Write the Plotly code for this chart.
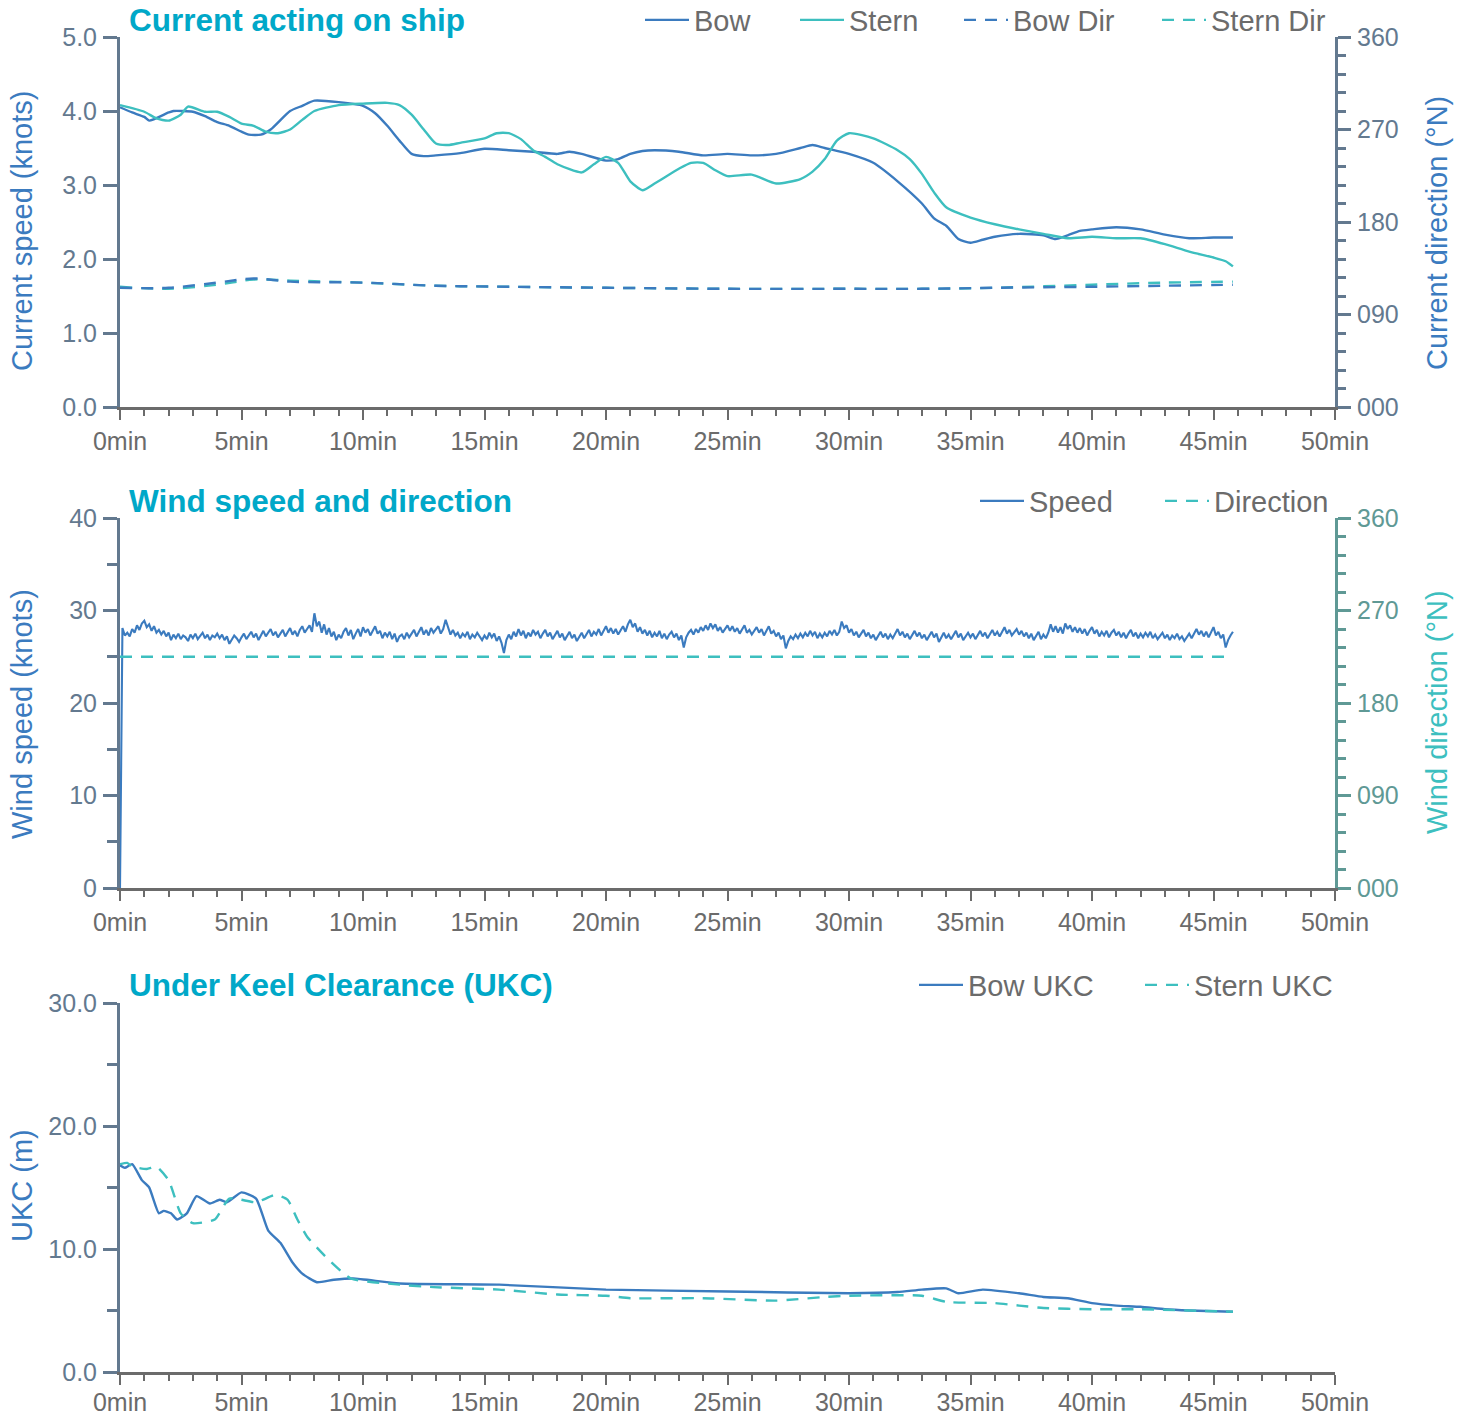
import plotly.graph_objects as go

# ---------------- data ----------------
# Current speed (knots)
bow_t = [0, 0.5, 1, 1.2, 2, 2.2, 3, 3.5, 4, 4.5, 5, 5.3, 5.8, 6.2, 7, 7.5, 8, 9, 10, 10.5, 11, 11.5, 12,
         12.5, 13, 14, 15, 16, 17, 18, 18.5, 19, 20, 20.5, 21, 21.5, 22, 23, 24, 25, 26, 27, 28, 28.5, 29,
         30, 31, 32, 33, 33.5, 34, 34.5, 35, 35.5, 36, 37, 38, 38.5, 39, 39.5, 40, 41, 42, 43, 44, 45, 45.8]
bow_speed = [4.05, 3.98, 3.92, 3.87, 3.98, 4.00, 3.99, 3.93, 3.85, 3.80, 3.72, 3.68, 3.68, 3.75, 4.00, 4.07,
             4.14, 4.12, 4.07, 3.97, 3.80, 3.60, 3.42, 3.39, 3.40, 3.43, 3.49, 3.47, 3.45, 3.42, 3.45, 3.42,
             3.33, 3.35, 3.42, 3.46, 3.47, 3.45, 3.40, 3.42, 3.40, 3.42, 3.50, 3.54, 3.50, 3.42, 3.30, 3.05,
             2.75, 2.55, 2.45, 2.27, 2.22, 2.26, 2.30, 2.34, 2.32, 2.27, 2.32, 2.38, 2.40, 2.43, 2.40, 2.33,
             2.28, 2.29, 2.29]
stern_t = [0, 1, 1.5, 2, 2.5, 2.8, 3.5, 4, 4.5, 5, 5.5, 6, 6.5, 7, 7.5, 8, 9, 10, 11, 11.5, 12, 12.5, 13,
           13.5, 14, 15, 15.5, 16, 16.5, 17, 17.5, 18, 19, 19.5, 20, 20.5, 21, 21.5, 22, 23, 23.5, 24, 24.5,
           25, 26, 27, 28, 28.5, 29, 29.5, 30, 31, 32, 32.5, 33, 33.5, 34, 35, 36, 37, 38, 39, 40, 41, 42,
           43, 44, 45, 45.5, 45.8]
stern_speed = [4.08, 3.99, 3.90, 3.87, 3.95, 4.06, 3.99, 3.99, 3.92, 3.83, 3.80, 3.72, 3.70, 3.75, 3.88,
               4.00, 4.08, 4.10, 4.11, 4.08, 3.95, 3.75, 3.56, 3.54, 3.57, 3.63, 3.70, 3.70, 3.62, 3.47,
               3.38, 3.28, 3.17, 3.28, 3.38, 3.30, 3.05, 2.93, 3.02, 3.22, 3.30, 3.30, 3.20, 3.12, 3.14,
               3.02, 3.08, 3.18, 3.35, 3.60, 3.70, 3.63, 3.47, 3.35, 3.15, 2.90, 2.70, 2.56, 2.47, 2.40,
               2.34, 2.28, 2.30, 2.28, 2.28, 2.20, 2.10, 2.02, 1.97, 1.90]

# Current direction (deg N)
dir_t = [0, 2, 4, 5.5, 7, 10, 13, 16, 20, 25, 30, 33, 36, 40, 43, 45.8]
bow_dir = [116, 116, 121, 125, 122, 121, 118, 117, 116, 115, 115, 115, 116, 117, 118, 119]
stern_dir = [117, 115, 119, 124, 123, 121, 118, 117, 116, 115, 115, 115, 116, 119, 121, 122]

# Wind speed (knots), sampled every 0.1 min (one row per minute)
wind_speed = [
    0.0, 28.1, 27.3, 27.6, 27.2, 28.0, 27.6, 28.4, 27.9, 28.6,
    28.9, 28.2, 28.5, 27.8, 28.3, 27.6, 27.9, 27.4, 27.8, 27.2,
    27.6, 26.8, 27.4, 27.0, 27.5, 26.9, 27.3, 27.1, 26.7, 27.4,
    27.0, 27.5, 26.9, 27.2, 27.6, 27.0, 27.4, 26.8, 27.3, 27.1,
    27.5, 27.0, 27.4, 26.8, 27.2, 26.4, 26.9, 27.3, 27.0, 26.6,
    27.1, 27.5, 26.9, 27.3, 27.7, 27.1, 27.5, 26.8, 27.4, 27.8,
    27.2, 27.6, 28.0, 27.3, 27.7, 27.1, 27.5, 27.9, 27.2, 27.6,
    28.1, 27.4, 27.8, 27.2, 27.9, 28.3, 27.6, 28.0, 28.4, 27.7,
    29.7, 28.3, 28.8, 27.6, 28.5, 27.4, 28.1, 27.2, 27.7, 26.8,
    27.4, 27.0, 27.7, 28.1, 27.3, 27.9, 26.9, 27.5, 28.0, 27.2,
    28.2, 27.6, 28.0, 27.3, 27.9, 28.3, 27.5, 27.8, 27.0, 27.6,
    27.2, 27.7, 26.9, 27.5, 26.6, 27.2, 27.4, 26.9, 27.6, 27.1,
    27.5, 27.9, 27.2, 27.8, 28.2, 27.4, 27.9, 27.3, 28.1, 27.6,
    27.9, 28.3, 27.5, 28.0, 29.0, 28.2, 27.4, 27.9, 27.3, 27.6,
    27.0, 27.5, 27.2, 27.7, 26.9, 27.4, 27.1, 27.6, 27.2, 26.8,
    27.3, 26.9, 27.6, 27.1, 27.5, 26.7, 27.2, 26.5, 25.4, 26.8,
    27.4, 26.9, 27.7, 27.2, 28.0, 27.3, 27.8, 27.0, 27.6, 27.2,
    27.9, 27.4, 27.7, 27.0, 27.5, 27.9, 27.2, 27.6, 26.9, 27.4,
    27.8, 27.1, 27.5, 26.8, 27.3, 27.7, 27.0, 27.4, 26.7, 27.2,
    27.6, 27.0, 27.5, 27.9, 27.2, 27.7, 27.4, 28.0, 27.3, 27.8,
    28.3, 27.6, 28.1, 27.5, 28.0, 27.4, 27.9, 28.3, 27.7, 28.5,
    29.0, 28.2, 28.6, 27.7, 28.2, 27.5, 27.9, 27.3, 27.8, 27.1,
    27.6, 27.2, 27.8, 27.0, 27.5, 26.9, 27.4, 27.7, 27.1, 27.5,
    26.8, 27.3, 26.0, 27.1, 27.6, 27.9, 27.4, 28.0, 27.6, 28.2,
    27.8, 28.4, 27.9, 28.6, 28.1, 28.5, 27.8, 28.2, 27.6, 28.0,
    28.4, 27.8, 28.3, 27.7, 28.1, 27.5, 28.0, 28.4, 27.6, 27.9,
    27.4, 27.8, 28.2, 27.6, 28.0, 27.3, 27.9, 28.3, 27.5, 27.8,
    27.2, 27.6, 26.9, 27.3, 25.9, 26.7, 27.2, 26.9, 27.4, 27.0,
    27.5, 27.1, 27.6, 27.2, 27.8, 27.3, 27.7, 27.0, 27.5, 27.1,
    27.6, 27.2, 27.8, 27.4, 27.9, 27.3, 27.7, 28.8, 28.1, 28.4,
    27.6, 28.0, 27.3, 27.7, 27.1, 27.5, 27.9, 27.2, 27.6, 27.0,
    27.4, 26.8, 27.3, 27.7, 27.1, 27.5, 26.9, 27.4, 27.0, 27.6,
    28.0, 27.3, 27.7, 27.1, 27.5, 26.9, 27.4, 27.8, 27.2, 27.6,
    27.0, 27.4, 26.8, 27.3, 27.7, 27.1, 27.5, 26.6, 27.2, 27.6,
    27.0, 27.4, 26.9, 27.3, 27.8, 27.1, 27.5, 26.8, 27.2, 27.6,
    27.1, 27.5, 26.9, 27.4, 27.8, 27.2, 27.6, 27.0, 27.4, 27.9,
    27.3, 27.7, 27.2, 27.8, 28.2, 27.5, 27.9, 27.3, 27.7, 28.0,
    27.4, 27.8, 27.2, 27.6, 27.0, 27.5, 26.8, 27.3, 27.7, 26.9,
    27.4, 27.0, 27.6, 28.5, 27.7, 28.3, 27.6, 28.2, 27.5, 28.6,
    28.0, 28.4, 27.7, 28.2, 27.6, 28.1, 27.5, 28.0, 27.3, 27.8,
    28.2, 27.5, 27.9, 27.2, 27.7, 27.3, 27.8, 27.1, 27.6, 27.9,
    27.3, 27.7, 27.1, 27.6, 27.0, 27.5, 27.9, 27.2, 27.6, 27.0,
    27.5, 27.1, 27.6, 27.2, 27.7, 27.0, 27.4, 26.9, 27.3, 27.6,
    27.0, 27.4, 26.8, 27.3, 27.0, 27.5, 26.9, 27.2, 26.7, 27.1,
    27.5, 27.0, 27.6, 28.0, 27.4, 27.8, 27.2, 27.7, 27.1, 27.6,
    28.2, 27.3, 27.7, 27.0, 27.4, 26.0, 26.8, 27.3, 27.7,
]
wind_t = [i / 10 for i in range(len(wind_speed))]
wind_dir_t = [0, 45.8]
wind_dir = [225, 225]

# Under keel clearance (m)
bow_ukc_t = [0, 0.2, 0.5, 0.9, 1.2, 1.6, 1.8, 2.1, 2.35, 2.75, 3.15, 3.7, 4.1, 4.4, 5.0, 5.6, 6.1, 6.6,
             7.1, 7.5, 8.1, 8.8, 9.6, 11.5, 15.6, 20, 25, 30, 32, 33, 34, 34.5, 35.5, 37, 38, 39, 40, 41,
             42, 43, 44, 45.8]
bow_ukc = [16.8, 16.6, 16.9, 15.6, 15.0, 12.9, 13.1, 12.9, 12.4, 12.9, 14.3, 13.7, 14.0, 13.8, 14.6, 14.1,
           11.5, 10.5, 8.9, 8.0, 7.3, 7.5, 7.6, 7.2, 7.1, 6.7, 6.55, 6.4, 6.5, 6.7, 6.8, 6.4, 6.7, 6.4,
           6.1, 6.0, 5.6, 5.4, 5.3, 5.1, 5.0, 4.9]
stern_ukc_t = [0, 0.3, 0.5, 1.1, 1.5, 2.0, 2.5, 3.0, 3.9, 4.5, 5.6, 6.4, 6.9, 7.3, 7.7, 8.5, 9.5, 11.5,
               12.9, 15.6, 18, 20, 21, 24, 27, 29, 30, 33, 34, 36, 37, 38, 40, 42, 45.8]
stern_ukc = [16.9, 17.0, 16.7, 16.5, 16.7, 15.6, 12.9, 12.1, 12.4, 14.1, 13.8, 14.4, 14.0, 12.4, 11.0, 9.3,
             7.6, 7.1, 6.9, 6.7, 6.3, 6.2, 6.0, 6.0, 5.8, 6.1, 6.2, 6.2, 5.7, 5.6, 5.4, 5.2, 5.1, 5.1, 4.9]

# ---------------- styling ----------------
W, H = 1470, 1418
# plot area in window pixels: x 120..1335 ; y 37..1372
L, R, T, B = 120, 1470 - 1335, 37, 1418 - 1372
PW, PH = W - L - R, H - T - B

def py(s):  # pixel y -> paper y
    return (H - B - s) / PH

def px(s):  # pixel x -> paper x
    return (s - L) / PW

BLUE = "#3b7bbf"
TEAL = "#3dbfbf"
TITLE = "#00a8c8"
SLATE = "#63798f"
GREY = "#6b6b6b"
WINDAX = "#5f9995"
FONT = "Liberation Sans, Arial, sans-serif"
TICK_SIZE = 25
LEG_SIZE = 29
YT_SIZE = 29
TITLE_SIZE = 31.5

fig = go.Figure()

lw = 2.4
dash = "12px,9px"

# top panel
fig.add_trace(go.Scatter(x=bow_t, y=bow_speed, name="Bow", mode="lines", line=dict(color=BLUE, width=lw, shape="spline", smoothing=0.6), xaxis="x", yaxis="y", legend="legend"))
fig.add_trace(go.Scatter(x=stern_t, y=stern_speed, name="Stern", mode="lines", line=dict(color=TEAL, width=lw, shape="spline", smoothing=0.6), xaxis="x", yaxis="y", legend="legend2"))
fig.add_trace(go.Scatter(x=dir_t, y=stern_dir, name="Stern Dir", mode="lines", line=dict(color=TEAL, width=lw, dash=dash, shape="spline"), xaxis="x", yaxis="y2", legend="legend4"))
fig.add_trace(go.Scatter(x=dir_t, y=bow_dir, name="Bow Dir", mode="lines", line=dict(color=BLUE, width=lw, dash=dash, shape="spline"), xaxis="x", yaxis="y2", legend="legend3"))

# middle panel
fig.add_trace(go.Scatter(x=wind_t, y=wind_speed, name="Speed", mode="lines", line=dict(color=BLUE, width=2.1), xaxis="x2", yaxis="y3", legend="legend5"))
fig.add_trace(go.Scatter(x=wind_dir_t, y=wind_dir, name="Direction", mode="lines", line=dict(color=TEAL, width=lw, dash=dash), xaxis="x2", yaxis="y4", legend="legend6"))

# bottom panel
fig.add_trace(go.Scatter(x=bow_ukc_t, y=bow_ukc, name="Bow UKC", mode="lines", line=dict(color=BLUE, width=lw, shape="spline", smoothing=0.5), xaxis="x3", yaxis="y5", legend="legend7"))
fig.add_trace(go.Scatter(x=stern_ukc_t, y=stern_ukc, name="Stern UKC", mode="lines", line=dict(color=TEAL, width=lw, dash=dash, shape="spline", smoothing=0.5), xaxis="x3", yaxis="y5", legend="legend8"))

dom_top = [py(407), py(37)]
dom_mid = [py(888), py(518)]
dom_bot = [py(1372), py(1003)]

def xax(anchor, standoff=0):
    return dict(
        domain=[0, 1], anchor=anchor, range=[0, 50], tick0=0, dtick=5, ticksuffix="min", automargin=False,
        showline=True, linecolor=GREY, linewidth=3, ticks="outside", ticklen=10, tickwidth=2,
        ticklabelstandoff=standoff,
        tickcolor=GREY, tickfont=dict(family=FONT, size=TICK_SIZE, color=GREY), showgrid=False, zeroline=False,
        minor=dict(dtick=1, ticks="outside", ticklen=6, tickwidth=2, tickcolor=GREY, showgrid=False),
    )

def yleft(anchor, domain, rng, dtick, fmt, minor):
    d = dict(
        domain=domain, anchor=anchor, range=rng, dtick=dtick, tick0=0, tickformat=fmt, automargin=False,
        showline=True, linecolor=SLATE, linewidth=3, ticks="outside", ticklen=14, tickwidth=2.5,
        ticklabelstandoff=1,
        tickcolor=SLATE, tickfont=dict(family=FONT, size=TICK_SIZE, color=SLATE), showgrid=False, zeroline=False,
    )
    if minor:
        d["minor"] = dict(dtick=minor, ticks="outside", ticklen=10, tickwidth=2.5, tickcolor=SLATE, showgrid=False)
    return d

def yright(anchor, overlay, color):
    return dict(
        overlaying=overlay, anchor=anchor, side="right", range=[0, 360], dtick=90, tick0=0, tickformat="03d",
        automargin=False, ticklabelstandoff=1,
        showline=True, linecolor=color, linewidth=3, ticks="outside", ticklen=13, tickwidth=2.5,
        tickcolor=color, tickfont=dict(family=FONT, size=TICK_SIZE, color=color), showgrid=False, zeroline=False,
        minor=dict(dtick=18, ticks="outside", ticklen=8, tickwidth=2.5, tickcolor=color, showgrid=False),
    )

def leg(xs, ys):
    return dict(x=xs / W, y=1 - ys / H, xref="container", yref="container",
                xanchor="left", yanchor="middle", orientation="h",
                font=dict(family=FONT, size=LEG_SIZE, color=GREY), itemwidth=44, bgcolor="rgba(0,0,0,0)",
                borderwidth=0, traceorder="normal", itemclick=False)

def title_ann(text, ys):
    return dict(text="<b>%s</b>" % text, x=px(127), y=py(ys), xref="paper", yref="paper",
                xanchor="left", yanchor="middle", showarrow=False,
                font=dict(family=FONT, size=TITLE_SIZE, color=TITLE))

def ytitle_ann(text, xs, ys, color):
    return dict(text=text, x=px(xs), y=py(ys), xref="paper", yref="paper",
                xanchor="center", yanchor="middle", textangle=-90, showarrow=False,
                font=dict(family=FONT, size=YT_SIZE, color=color))

fig.update_layout(
    width=W, height=H, margin=dict(l=L, r=R, t=T, b=B, pad=0, autoexpand=False),
    paper_bgcolor="white", plot_bgcolor="white", showlegend=True,
    font=dict(family=FONT),
    xaxis=xax("y"),
    xaxis2=xax("y3"),
    xaxis3=xax("y5", -4),
    yaxis=yleft("x", dom_top, [0, 5], 1, ".1f", None),
    yaxis2=yright("x", "y", SLATE),
    yaxis3=yleft("x2", dom_mid, [0, 40], 10, "d", 5),
    yaxis4=yright("x2", "y3", WINDAX),
    yaxis5=yleft("x3", dom_bot, [0, 30], 10, ".1f", 5),
    legend=leg(640, 20), legend2=leg(795, 20), legend3=leg(959, 20), legend4=leg(1157, 20),
    legend5=leg(975, 501), legend6=leg(1160, 501),
    legend7=leg(914, 985), legend8=leg(1140, 985),
    annotations=[
        title_ann("Current acting on ship", 20),
        title_ann("Wind speed and direction", 501),
        title_ann("Under Keel Clearance (UKC)", 985),
        ytitle_ann("Current speed (knots)", 22, 231, BLUE),
        ytitle_ann("Wind speed (knots)", 22, 714, BLUE),
        ytitle_ann("UKC (m)", 22, 1186, BLUE),
        ytitle_ann("Current direction (°N)", 1437, 233, BLUE),
        ytitle_ann("Wind direction (°N)", 1437, 712, TEAL),
    ],
)

# remove the browser's default 8px body margin so the figure sits at the window origin
fig.write_html("out.html", config={"displayModeBar": False},
               post_script="document.body.style.margin='0px';")
